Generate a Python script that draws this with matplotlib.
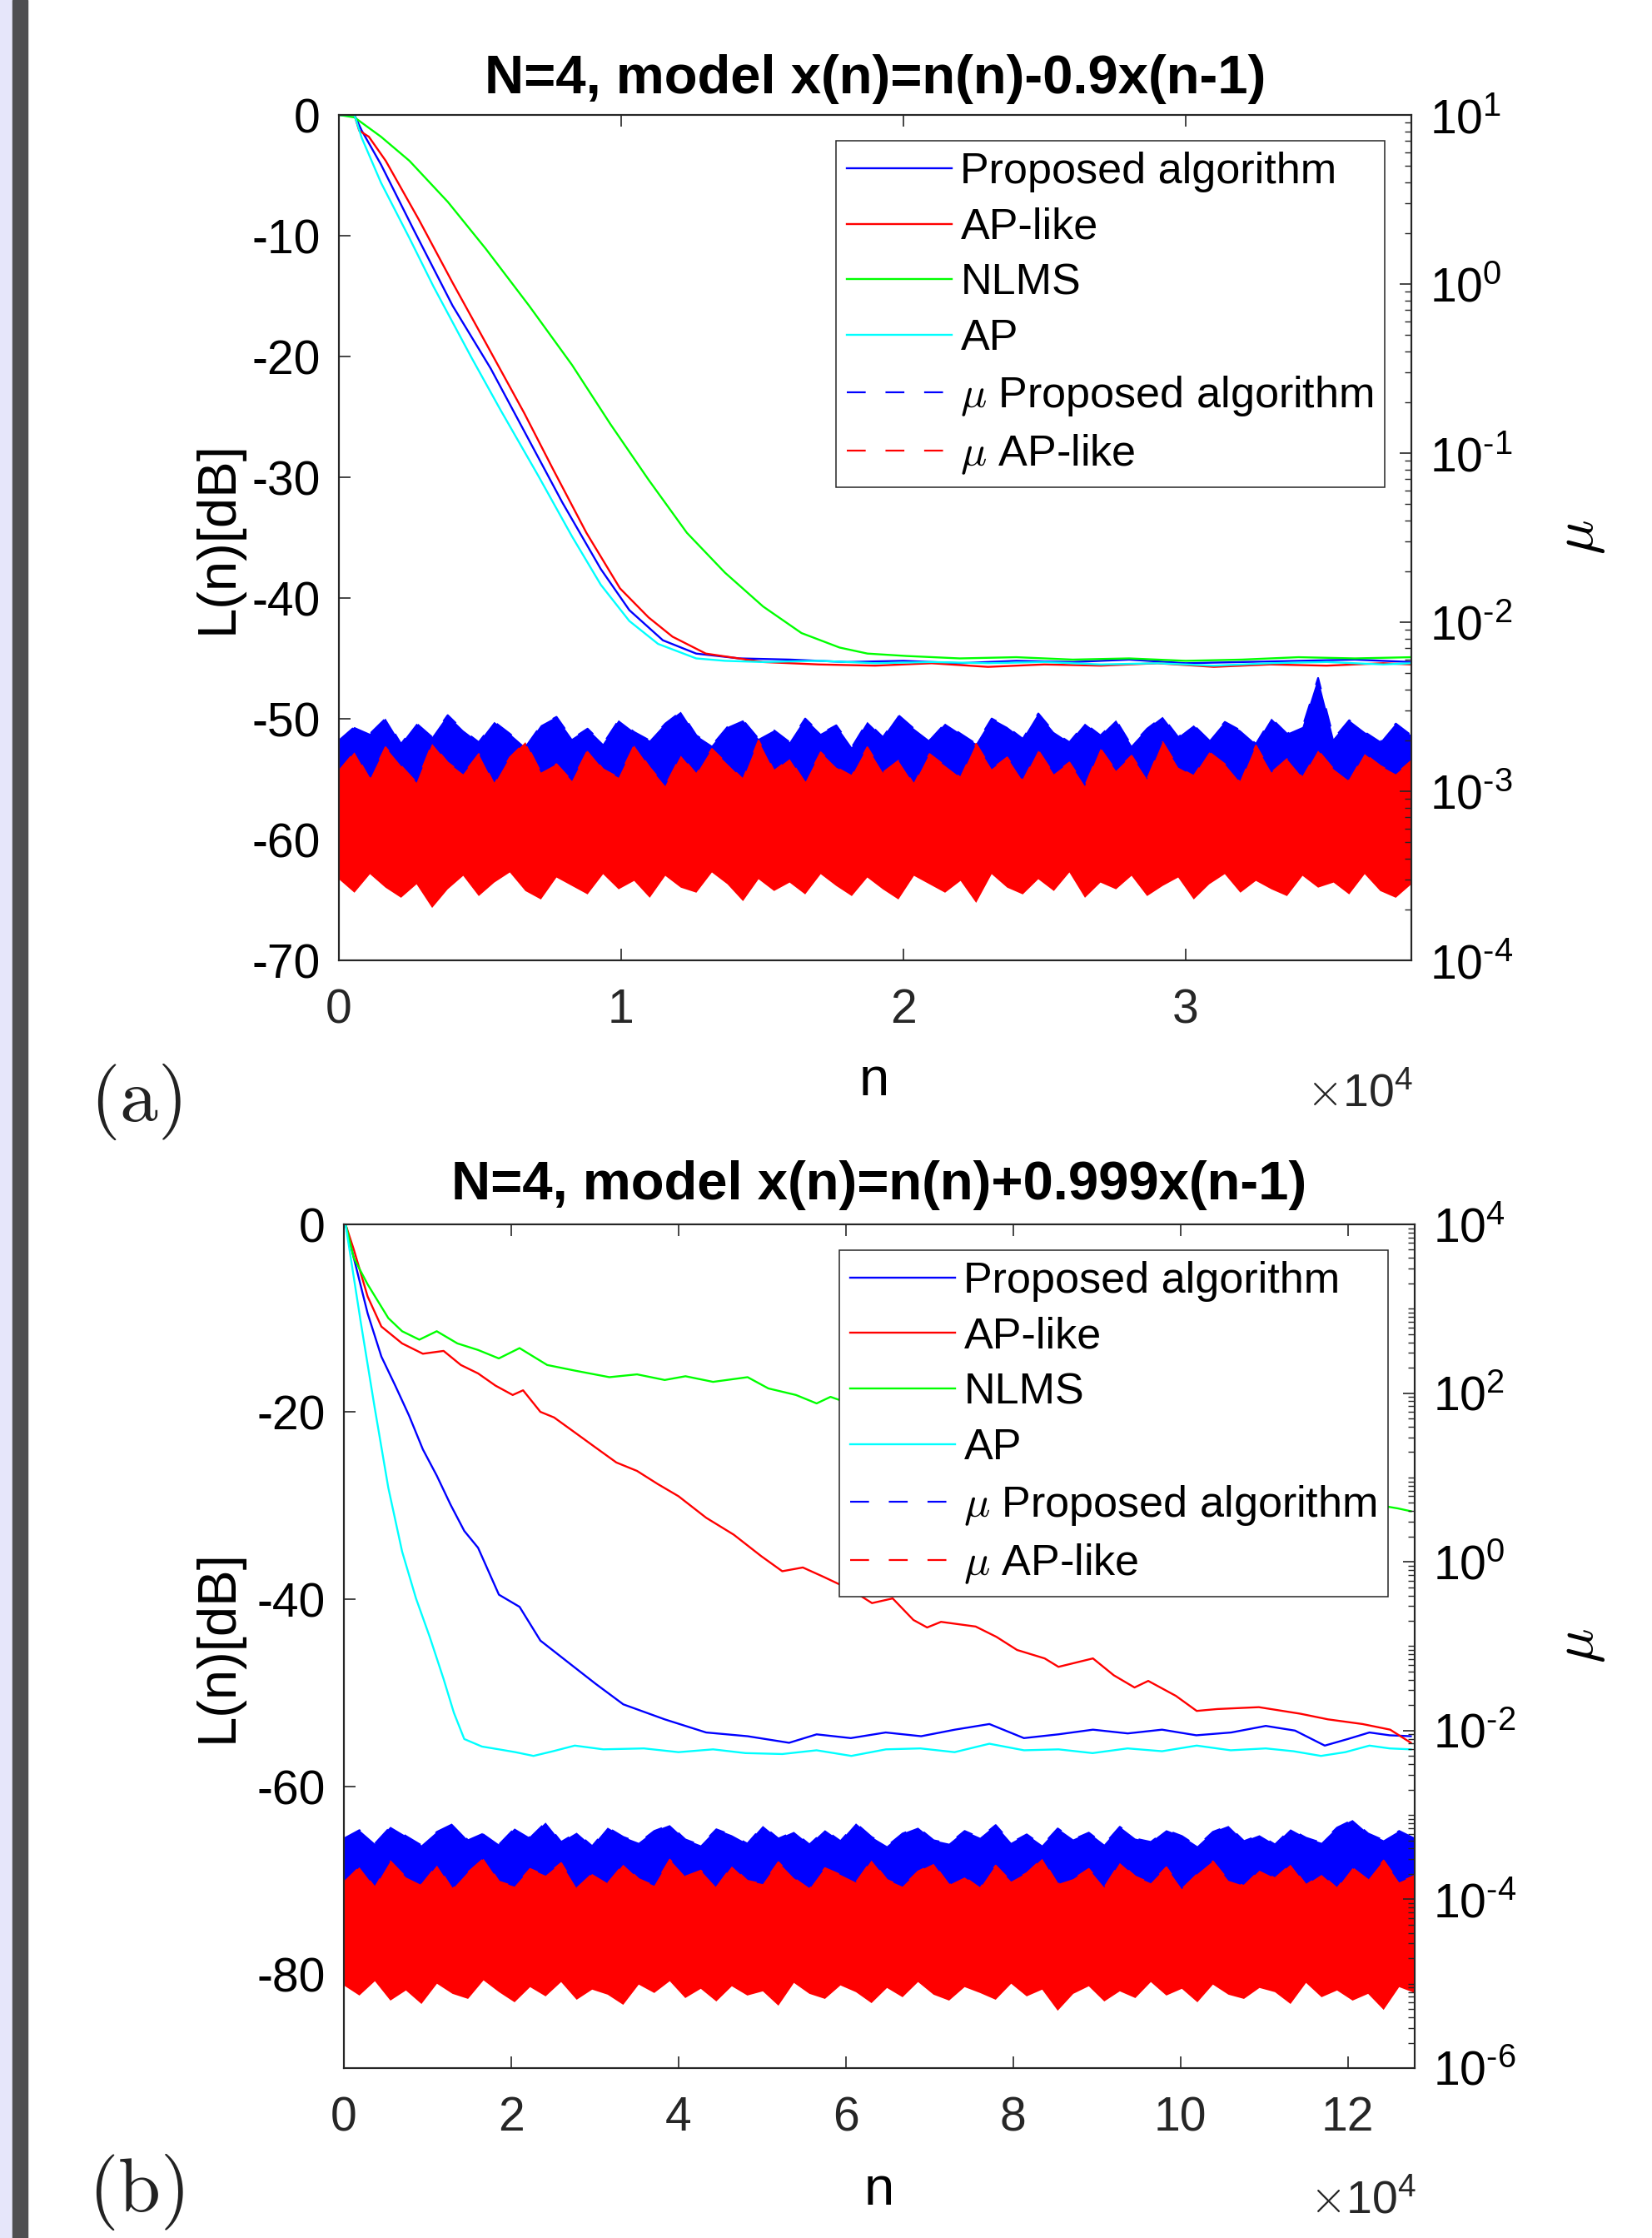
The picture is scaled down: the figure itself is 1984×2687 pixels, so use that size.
import numpy as np
import matplotlib.pyplot as plt
from matplotlib.patches import Rectangle
from matplotlib.ticker import FixedLocator, FuncFormatter, LogLocator, NullFormatter

plt.rcParams['font.family'] = ['Liberation Sans', 'DejaVu Sans']
plt.rcParams['mathtext.fontset'] = 'cm'
plt.rcParams['axes.unicode_minus'] = False

W, H = 1984, 2687

# ---- panel (a): N=4, x(n)=n(n)-0.9x(n-1) ----
a_n_prop = [0, 550, 810, 1490, 2670, 4030, 5380, 6570, 7920, 9280, 10290, 11480, 12660, 14190,
            16000, 18000, 20000, 22000, 24000, 26000, 28000, 30000, 32000, 34000, 36000, 38000]
a_L_prop = [0, 0, -1.3, -4.1, -9.6, -15.8, -21.0, -26.2, -32.1, -37.6, -41.0, -43.5, -44.6, -45.0,
            -45.1, -45.3, -45.2, -45.4, -45.2, -45.3, -45.1, -45.4, -45.3, -45.2, -45.1, -45.3]

a_n_apl = [0, 550, 720, 1060, 1660, 2840, 4030, 5210, 6570, 7580, 8770, 9960, 10970, 11820, 13000,
           15030, 17000, 19000, 21000, 23000, 25000, 27000, 29000, 31000, 33000, 35000, 37000, 38000]
a_L_apl = [0, 0, -1.3, -1.8, -3.8, -8.7, -13.9, -18.9, -24.7, -29.3, -34.6, -39.2, -41.6, -43.2, -44.6,
           -45.3, -45.5, -45.6, -45.4, -45.7, -45.5, -45.6, -45.4, -45.7, -45.5, -45.6, -45.4, -45.5]

a_n_nlms = [0, 550, 1490, 2500, 3860, 5210, 6740, 8260, 9620, 10970, 12330, 13680, 15030, 16390,
            17740, 18730, 20120, 22000, 24000, 26000, 28000, 30000, 32000, 34000, 36000, 38000]
a_L_nlms = [0, -0.2, -1.8, -3.8, -7.2, -11.1, -15.8, -20.7, -25.6, -30.2, -34.6, -37.9, -40.7, -42.9,
            -44.1, -44.6, -44.8, -45.0, -44.9, -45.1, -45.0, -45.2, -45.1, -44.9, -45.0, -44.9]

a_n_ap = [0, 550, 810, 1490, 2500, 3350, 4700, 5720, 7070, 8260, 9280, 10290, 11310, 12660, 13680,
          15000, 17000, 19000, 21000, 23000, 25000, 27000, 29000, 31000, 33000, 35000, 37000, 38000]
a_L_ap = [0, 0, -1.9, -5.6, -10.2, -14.2, -20.1, -24.4, -29.9, -34.9, -38.9, -41.9, -43.8, -45.0, -45.2,
          -45.3, -45.2, -45.4, -45.3, -45.4, -45.3, -45.5, -45.4, -45.6, -45.4, -45.3, -45.5, -45.4]

# step size mu (log10): upper / lower edge of the noisy traces
a_mu_prop_hi = [-2.70, -2.62, -2.66, -2.57, -2.72, -2.60, -2.68, -2.55, -2.64, -2.71,
                -2.59, -2.66, -2.74, -2.61, -2.56, -2.69, -2.63, -2.72, -2.58, -2.65,
                -2.70, -2.60, -2.53, -2.67, -2.73, -2.62, -2.58, -2.69, -2.64, -2.71,
                -2.57, -2.66, -2.61, -2.74, -2.59, -2.68, -2.55, -2.63, -2.70, -2.60,
                -2.66, -2.72, -2.57, -2.62, -2.69, -2.54, -2.65, -2.71, -2.60, -2.67,
                -2.58, -2.73, -2.63, -2.56, -2.68, -2.61, -2.70, -2.59, -2.64, -2.72,
                -2.57, -2.66, -2.62, -2.33, -2.69, -2.58, -2.65, -2.71, -2.60, -2.67]
a_mu_prop_lo = [-3.20, -3.22, -3.19, -3.21, -3.20]
a_mu_apl_hi = [-2.88, -2.77, -2.93, -2.74, -2.85, -2.95, -2.72, -2.83, -2.90, -2.78,
               -2.96, -2.80, -2.71, -2.89, -2.84, -2.94, -2.76, -2.87, -2.92, -2.73,
               -2.86, -2.97, -2.79, -2.90, -2.75, -2.84, -2.93, -2.70, -2.88, -2.81,
               -2.95, -2.77, -2.86, -2.91, -2.74, -2.89, -2.82, -2.96, -2.78, -2.85,
               -2.92, -2.72, -2.87, -2.80, -2.94, -2.76, -2.90, -2.83, -2.97, -2.75,
               -2.88, -2.79, -2.93, -2.71, -2.86, -2.91, -2.77, -2.84, -2.95, -2.73,
               -2.89, -2.81, -2.92, -2.76, -2.87, -2.94, -2.78, -2.85, -2.90, -2.82]
a_mu_apl_lo = [-3.52, -3.60, -3.49, -3.57, -3.63, -3.55, -3.69, -3.58, -3.50, -3.62,
               -3.54, -3.48, -3.59, -3.64, -3.51, -3.56, -3.61, -3.49, -3.58, -3.53,
               -3.63, -3.50, -3.57, -3.60, -3.48, -3.55, -3.65, -3.52, -3.59, -3.54,
               -3.61, -3.49, -3.56, -3.62, -3.51, -3.58, -3.64, -3.50, -3.55, -3.60,
               -3.53, -3.66, -3.49, -3.57, -3.61, -3.52, -3.59, -3.48, -3.63, -3.54,
               -3.58, -3.50, -3.62, -3.56, -3.51, -3.64, -3.55, -3.49, -3.60, -3.53,
               -3.58, -3.62, -3.50, -3.57, -3.54, -3.61, -3.49, -3.59, -3.63, -3.55]

# ---- panel (b): N=4, x(n)=n(n)+0.999x(n-1) ----
b_n_prop = [0, 200, 1190, 2840, 4480, 6140, 7790, 9440, 11100, 12750, 14390, 16040, 18530, 21000,
            23490, 26780, 30080, 33400, 38350, 43300, 48260, 53220, 56510, 60600, 64770, 69000,
            73040, 77160, 81290, 85400, 89540, 93700, 97800, 101900, 106070, 110200, 113700,
            117250, 120000, 122590, 125000, 127540]
b_L_prop = [0, 0, -3.6, -9.5, -14.1, -17.2, -20.4, -24.0, -26.8, -29.9, -32.7, -34.5, -39.5, -40.8,
            -44.4, -46.7, -49.0, -51.2, -52.8, -54.2, -54.6, -55.3, -54.4, -54.8, -54.2, -54.6,
            -53.9, -53.3, -54.8, -54.4, -53.9, -54.3, -53.9, -54.5, -54.2, -53.5, -54.0,
            -55.6, -54.9, -54.2, -54.5, -54.6]

b_n_apl = [0, 200, 1190, 2840, 4480, 6960, 9440, 11920, 13980, 16040, 18120, 20180, 21420, 23490,
           25130, 27610, 30080, 32570, 35040, 37520, 40000, 43310, 46600, 49900, 52400, 54860,
           57340, 60660, 63130, 65600, 68080, 69720, 71380, 75520, 78000, 80470, 83770, 85420,
           89540, 92030, 94510, 96150, 99460, 101940, 104420, 109370, 114330, 117630, 121760,
           125070, 127540]
b_L_apl = [0, 0, -2.7, -7.7, -10.9, -12.7, -13.8, -13.5, -15.0, -15.9, -17.2, -18.2, -17.7, -20.0,
           -20.6, -22.2, -23.8, -25.4, -26.3, -27.7, -29.0, -31.3, -33.1, -35.4, -37.0, -36.6,
           -37.6, -39.0, -40.4, -39.9, -42.2, -43.0, -42.4, -42.9, -44.0, -45.4, -46.3, -47.2,
           -46.3, -48.1, -49.4, -48.7, -50.3, -51.9, -51.7, -51.5, -52.2, -52.8, -53.3,
           -53.9, -55.3]

b_n_nlms = [0, 200, 1190, 2840, 5310, 6960, 9020, 11100, 13570, 16040, 18520, 21000, 24300, 27610,
            31740, 35040, 38350, 40830, 44130, 48260, 50740, 54040, 56510, 58170, 62000, 67000,
            72000, 77000, 82000, 87000, 92000, 97000, 102000, 107000, 112000, 117000, 121000,
            124000, 126000, 127540]
b_L_nlms = [0, 0, -3.6, -6.4, -10.0, -11.4, -12.3, -11.4, -12.7, -13.4, -14.3, -13.2, -15.0, -15.6,
            -16.3, -16.0, -16.6, -16.2, -16.8, -16.3, -17.5, -18.2, -19.1, -18.4, -19.6, -20.8,
            -21.5, -22.7, -23.4, -24.6, -25.3, -26.2, -27.1, -27.8, -28.5, -29.2, -29.6,
            -30.0, -30.3, -30.6]

b_n_ap = [0, 200, 2010, 3670, 5310, 6960, 8620, 10260, 11920, 13150, 14390, 16500, 18530, 20500,
          22660, 25000, 27600, 31000, 35870, 40000, 44130, 48000, 52400, 56500, 60660, 64800,
          68900, 73000, 77160, 81300, 85420, 89500, 93680, 97800, 101940, 106000, 110200,
          113500, 116800, 119700, 122590, 125000, 127540]
b_L_ap = [0, 0, -10.4, -19.5, -28.1, -34.9, -39.9, -44.0, -48.5, -52.1, -54.9, -55.7, -56.0, -56.3,
          -56.7, -56.2, -55.6, -56.0, -55.9, -56.3, -56.0, -56.4, -56.5, -56.1, -56.7, -56.0,
          -55.9, -56.3, -55.4, -56.1, -56.0, -56.4, -55.9, -56.2, -55.6, -56.1, -55.9,
          -56.2, -56.7, -56.3, -55.6, -55.9, -56.0]

b_mu_prop_hi = [-3.28, -3.18, -3.34, -3.14, -3.25, -3.36, -3.20, -3.11, -3.30, -3.22,
                -3.35, -3.16, -3.27, -3.09, -3.32, -3.21, -3.37, -3.15, -3.26, -3.33,
                -3.19, -3.12, -3.29, -3.36, -3.17, -3.24, -3.34, -3.13, -3.28, -3.20,
                -3.35, -3.18, -3.31, -3.10, -3.26, -3.37, -3.22, -3.15, -3.30, -3.34,
                -3.19, -3.27, -3.12, -3.33, -3.23, -3.36, -3.16, -3.29, -3.21, -3.35,
                -3.14, -3.28, -3.32, -3.18, -3.25, -3.37, -3.20, -3.13, -3.31, -3.24,
                -3.35, -3.17, -3.27, -3.33, -3.15, -3.06, -3.22, -3.30, -3.19, -3.28]
b_mu_prop_lo = [-4.45, -4.47, -4.44, -4.46, -4.45]
b_mu_apl_hi = [-3.80, -3.62, -3.86, -3.55, -3.74, -3.83, -3.60, -3.88, -3.68, -3.52,
               -3.79, -3.85, -3.64, -3.72, -3.57, -3.87, -3.70, -3.81, -3.59, -3.76,
               -3.84, -3.53, -3.73, -3.66, -3.86, -3.61, -3.78, -3.82, -3.56, -3.75,
               -3.88, -3.63, -3.71, -3.80, -3.54, -3.77, -3.85, -3.67, -3.58, -3.83,
               -3.74, -3.87, -3.60, -3.79, -3.69, -3.52, -3.82, -3.76, -3.64, -3.86,
               -3.57, -3.73, -3.81, -3.62, -3.88, -3.70, -3.55, -3.78, -3.84, -3.66,
               -3.75, -3.59, -3.83, -3.71, -3.87, -3.63, -3.77, -3.54, -3.80, -3.72]
b_mu_apl_lo = [-5.02, -5.14, -4.97, -5.20, -5.08, -5.24, -5.00, -5.12, -5.18, -4.96,
               -5.10, -5.22, -5.04, -5.15, -4.98, -5.19, -5.07, -5.13, -5.25, -5.01,
               -5.11, -4.97, -5.17, -5.06, -5.21, -5.03, -5.14, -5.09, -5.26, -4.99,
               -5.12, -5.18, -5.02, -5.10, -5.23, -5.05, -5.16, -4.98, -5.13, -5.20,
               -5.04, -5.11, -5.19, -5.00, -5.15, -5.07, -5.32, -5.12, -5.03, -5.21,
               -5.09, -5.17, -4.98, -5.14, -5.06, -5.22, -5.01, -5.13, -5.18, -5.05,
               -5.10, -5.24, -4.99, -5.16, -5.08, -5.20, -5.12, -5.31, -5.04, -5.11]

labels = ['Proposed algorithm', 'AP-like', 'NLMS', 'AP',
          r'$\mu$ Proposed algorithm', r'$\mu$ AP-like']

# MATLAB-style pure colours
BLUE, RED, GREEN, CYAN = '#0000ff', '#ff0000', '#00ff00', '#00ffff'
AX_COL = '#262626'


def mu_band(ax2, n_max, hi, lo, color):
    # noisy mu trace drawn as its band (upper/lower edge), dashed edge for the legend
    n_hi = np.linspace(0, n_max, len(hi))
    n_lo = np.linspace(0, n_max, len(lo))
    mu_hi = 10.0 ** np.array(hi)
    mu_lo = 10.0 ** np.array(lo)
    ax2.fill(np.r_[n_hi, n_lo[::-1]], np.r_[mu_hi, mu_lo[::-1]], color=color, lw=0)
    line, = ax2.plot(n_hi, mu_hi, color=color, lw=1.6, linestyle=(0, (10.2, 10.7)))
    return line


def mu_tick(v, p):
    e = int(round(np.log10(v)))
    sign = '\u2010' if e < 0 else ''
    return r'$\mathdefault{10^{%s%d}}$' % (sign, abs(e))


def panel(rect, curves, n_max, xt, yl, yt, mu_lim, mu_ticks, bands, leg_xy):
    ax = fig.add_axes(rect)
    lines = []
    for n, L, c in curves:
        l, = ax.plot(n, L, color=c, lw=1.7)
        lines.append(l)
    ax.set_xlim(0, n_max)
    ax.set_ylim(*yl)
    ax.xaxis.set_major_locator(FixedLocator(xt))
    ax.xaxis.set_major_formatter(FuncFormatter(lambda v, p: f'{v / 1e4:g}'))
    ax.yaxis.set_major_locator(FixedLocator(yt))
    ax.tick_params(axis='x', direction='in', top=True, length=10, width=1.2, labelsize=41,
                   pad=24, colors=AX_COL)
    ax.tick_params(axis='y', direction='in', right=False, length=10, width=1.2, labelsize=41,
                   pad=16, colors=AX_COL, labelcolor='k')
    for s in ax.spines.values():
        s.set_linewidth(1.5)
        s.set_color(AX_COL)

    ax2 = ax.twinx()
    ax2.set_yscale('log')
    ax2.set_ylim(*mu_lim)
    ax2.yaxis.set_major_locator(FixedLocator(mu_ticks))
    ax2.yaxis.set_major_formatter(FuncFormatter(mu_tick))
    ax2.yaxis.set_minor_locator(LogLocator(base=10, subs=np.arange(1, 10), numticks=100))
    ax2.yaxis.set_minor_formatter(NullFormatter())
    ax2.tick_params(axis='y', which='major', direction='in', length=10, width=1.2,
                    labelsize=41, pad=16, colors=AX_COL, labelcolor='k')
    ax2.tick_params(axis='y', which='minor', direction='in', length=6, width=1.0, colors=AX_COL)
    for s in ax2.spines.values():
        s.set_linewidth(1.5)
        s.set_color(AX_COL)

    mu_lines = [mu_band(ax2, n_max, hi, lo, c) for hi, lo, c in bands]

    leg = ax2.legend(lines + mu_lines, labels, loc='upper left',
                     bbox_to_anchor=(leg_xy[0] / W, 1 - leg_xy[1] / H),
                     bbox_transform=fig.transFigure, fontsize=37.5, handlelength=2.41,
                     handletextpad=0.21, borderpad=0.25, labelspacing=0.34,
                     borderaxespad=0, fancybox=False, framealpha=1, edgecolor=AX_COL)
    leg.get_frame().set_linewidth(1.1)
    return ax, ax2


fig = plt.figure(figsize=(W / 100, H / 100), dpi=100)

# left page edge strip
fig.patches.append(Rectangle((0, 0), 15 / W, 1, transform=fig.transFigure,
                             color='#E6E6FA', zorder=0))
fig.patches.append(Rectangle((15 / W, 0), 18 / W, 1, transform=fig.transFigure,
                             color='#4F4F51', zorder=0))

# panel (a)
panel([407 / W, 1 - 1153 / H, (1695 - 407) / W, (1153 - 138) / H],
      [(a_n_prop, a_L_prop, BLUE), (a_n_apl, a_L_apl, RED),
       (a_n_nlms, a_L_nlms, GREEN), (a_n_ap, a_L_ap, CYAN)],
      38000, [0, 10000, 20000, 30000], (-70, 0), [-70, -60, -50, -40, -30, -20, -10, 0],
      (1e-4, 1e1), [1e-4, 1e-3, 1e-2, 1e-1, 1e0, 1e1],
      [(a_mu_prop_hi, a_mu_prop_lo, BLUE), (a_mu_apl_hi, a_mu_apl_lo, RED)],
      (1004, 169))

# panel (b)
panel([413 / W, 1 - 2483 / H, (1699 - 413) / W, (2483 - 1470) / H],
      [(b_n_prop, b_L_prop, BLUE), (b_n_apl, b_L_apl, RED),
       (b_n_nlms, b_L_nlms, GREEN), (b_n_ap, b_L_ap, CYAN)],
      128000, [0, 20000, 40000, 60000, 80000, 100000, 120000], (-90, 0),
      [-80, -60, -40, -20, 0],
      (1e-6, 1e4), [1e-6, 1e-4, 1e-2, 1e0, 1e2, 1e4],
      [(b_mu_prop_hi, b_mu_prop_lo, BLUE), (b_mu_apl_hi, b_mu_apl_lo, RED)],
      (1008, 1501))

# titles, axis labels, exponent labels, panel tags
fig.text(1051 / W, 1 - 112 / H, 'N=4, model x(n)=n(n)-0.9x(n-1)', ha='center',
         va='baseline', fontsize=47, fontweight='bold')
fig.text(1056 / W, 1 - 1440 / H, 'N=4, model x(n)=n(n)+0.999x(n-1)', ha='center',
         va='baseline', fontsize=47, fontweight='bold')

for yc in (645, 1976):
    fig.text(262 / W, 1 - yc / H, 'L(n)[dB]', rotation=90, ha='center', va='center',
             fontsize=47)
    fig.text(1898 / W, 1 - yc / H, r'$\mu$', rotation=90, ha='center', va='center',
             fontsize=50)

fig.text(1050 / W, 1 - 1315 / H, 'n', ha='center', va='baseline', fontsize=47)
fig.text(1056 / W, 1 - 2647 / H, 'n', ha='center', va='baseline', fontsize=47)
fig.text(1697 / W, 1 - 1328 / H, r'$\times\mathdefault{10^{4}}$', ha='right',
         va='baseline', fontsize=40, color=AX_COL)
fig.text(1701 / W, 1 - 2657 / H, r'$\times\mathdefault{10^{4}}$', ha='right',
         va='baseline', fontsize=40, color=AX_COL)

fig.text(163 / W, 1 - 1323 / H, r'$\mathrm{(a)}$', ha='center', va='center', fontsize=66,
         color='#222222')
fig.text(164 / W, 1 - 2632 / H, r'$\mathrm{(b)}$', ha='center', va='center', fontsize=66,
         color='#222222')

fig.savefig('out.png', dpi=100)
